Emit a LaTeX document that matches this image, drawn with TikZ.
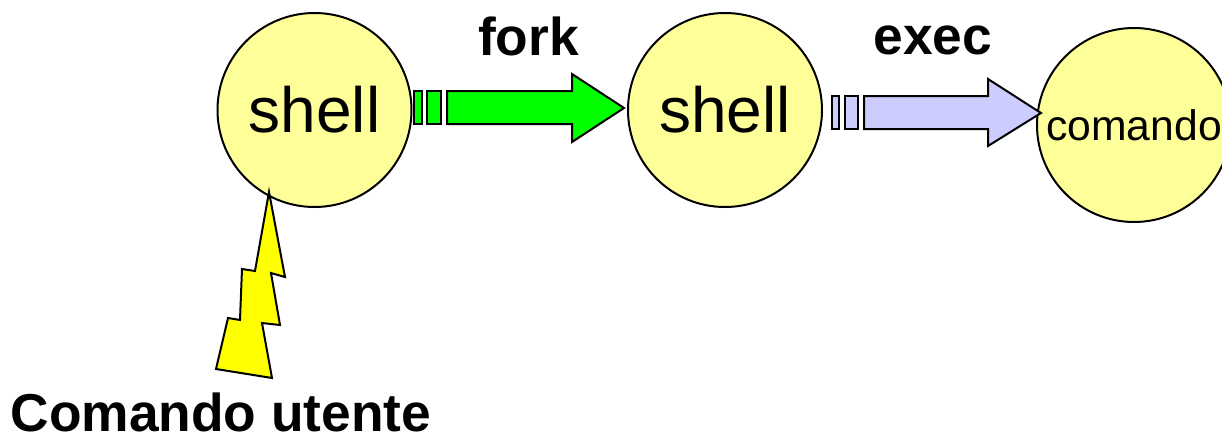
\documentclass[tikz,border=0pt]{standalone}
\usepackage{fontspec}
\setmainfont{Liberation Sans}
\definecolor{procfill}{HTML}{FFFF99}
\definecolor{forkfill}{HTML}{00FF00}
\definecolor{execfill}{HTML}{CCCCFF}
\definecolor{boltfill}{HTML}{FFFF00}
\begin{document}
\begin{tikzpicture}[x=0.75pt, y=-0.75pt,
    process/.style ={circle, draw, line width=1.5pt, fill=procfill, minimum size=145.5pt, inner sep=0pt},
    forkarrow/.style ={draw, line width=1.5pt, fill=forkfill, line join=miter},
    execarrow/.style ={draw, line width=1.5pt, fill=execfill, line join=miter},
    caption/.style ={font=\fontsize{40}{48}\selectfont\bfseries, inner sep=0pt, anchor=base}]
   \useasboundingbox (0,0) rectangle (1222,433);

   \node[process, font=\fontsize{48}{56}\selectfont] (S1) at (314.5,110) {shell};
   \node[process, font=\fontsize{48}{56}\selectfont] (S2) at (725,110) {shell};
   \node[process, font=\fontsize{32}{38}\selectfont] (C) at (1134,125) {\raisebox{-0.75pt}{comando}};

   \draw[forkarrow] (414,91) rectangle (422,124);
   \draw[forkarrow] (427,91) rectangle (441,124);
   \draw[forkarrow] (447,91) -- (572,91) -- (572,74) -- (624,108) -- (572,142) -- (572,124) -- (447,124) -- cycle;

   \draw[execarrow] (832,96) rectangle (838.5,129);
   \draw[execarrow] (845,96) rectangle (858,129);
   \draw[execarrow] (864,96) -- (988,96) -- (988,79) -- (1041,113) -- (988,146) -- (988,129) -- (864,129) -- cycle;

   \draw[line width=1.5pt, fill=boltfill] (269,192) -- (285,277) -- (271,273) -- (280,325) -- (262,323) -- (272,378) -- (216,369) -- (228,318) -- (240,320) -- (242,269) -- (255,271) -- cycle;

   \node[caption] (F) at (528.5,55.5) {fork};
   \node[caption] (E) at (933,54) {exec};
   \node[caption] (U) at (221,431) {Comando utente};
\end{tikzpicture}
\end{document}
